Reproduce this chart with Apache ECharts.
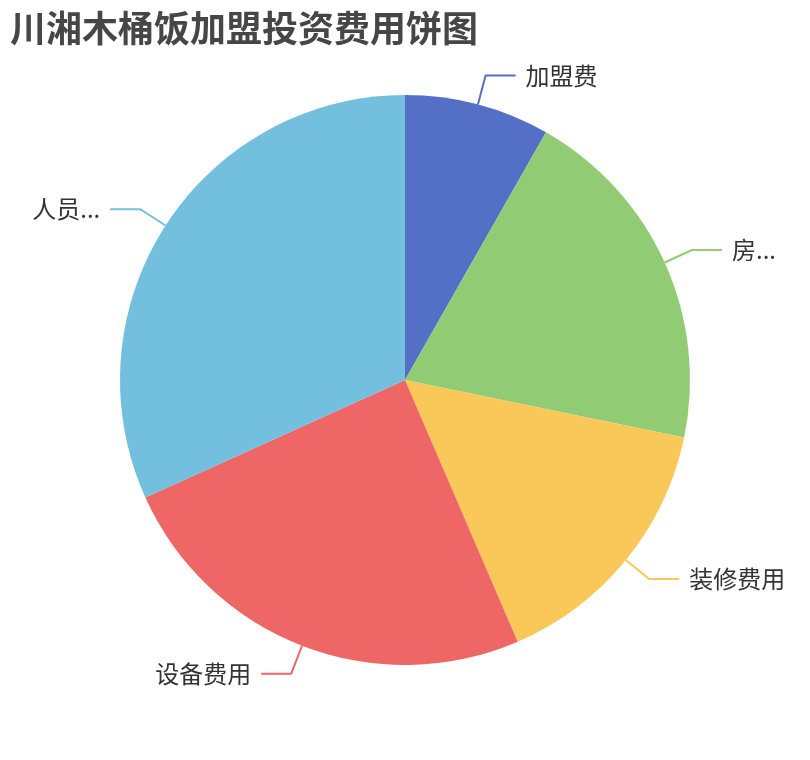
<!DOCTYPE html>
<html>
<head>
<meta charset="utf-8">
<script src="https://cdn.jsdelivr.net/npm/echarts@6/dist/echarts.min.js"></script>
<style>
html,body{margin:0;padding:0;background:#fff;}
#main{width:810px;height:760px;}
</style>
</head>
<body>
<div id="main"></div>
<script>
var titleText = '川湘木桶饭加盟投资费用饼图';
var categories = ['加盟费', '房租费用', '装修费用', '设备费用', '人员工资'];
var values = [7, 17, 13, 21, 27];

var chart = echarts.init(document.getElementById('main'), null, {renderer: 'canvas'});
var data = categories.map(function (c, i) { return {name: c, value: values[i]}; });
chart.setOption({
  color: ['#5470c6', '#91cc75', '#fac858', '#ee6666', '#73c0de'],
  title: {
    text: titleText,
    left: 0,
    top: 0,
    padding: 10,
    textStyle: {fontSize: 36, fontWeight: 'bold', color: '#464646', fontFamily: 'Noto Sans CJK SC'}
  },
  series: [{
    type: 'pie',
    radius: '75%',
    center: ['50%', '50%'],
    data: data,
    label: {fontSize: 24, color: '#333', fontFamily: 'Noto Sans CJK SC', distanceToLabelLine: 10},
    labelLine: {length: 30, length2: 30, lineStyle: {width: 2}}
  }]
});
</script>
</body>
</html>
